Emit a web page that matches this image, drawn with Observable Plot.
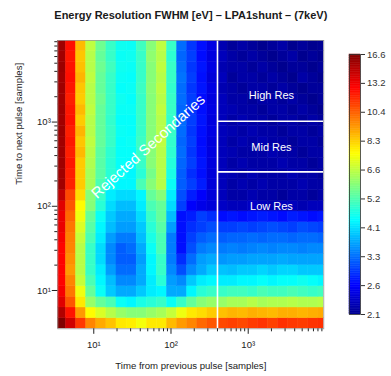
<!DOCTYPE html>
<html>
<head>
<meta charset="utf-8">
<script src="https://cdn.jsdelivr.net/npm/d3@7"></script>
<script src="https://cdn.jsdelivr.net/npm/@observablehq/plot@0.6"></script>
<style>
  html, body { margin: 0; padding: 0; background: #fff; }
  #wrap { position: relative; width: 391px; height: 376px; overflow: hidden; }
  #cbar { position: absolute; left: 330px; top: 0; }
  #main { position: absolute; left: 0; top: 0; }
</style>
</head>
<body>
<div id="wrap"><div id="main"></div><div id="cbar"></div></div>
<script>
// ---- texts ----
const title = "Energy Resolution FWHM [eV] \u2013 LPA1shunt \u2013 (7keV)";
const xTitle = "Time from previous pulse [samples]";
const yTitle = "Time to next pulse [samples]";
const regionLabels = [
  {label: "High Res", x: 2000, y: 2050},
  {label: "Mid Res", x: 2000, y: 505},
  {label: "Low Res", x: 2000, y: 99}
];
const rejectedLabel = {label: "Rejected Secondaries", x: 51, y: 511};
const cutX = [400];
const cutY = [1024, 256];

// ---- bin edges (log spaced) ----
const xEdges = [3.236, 4.373, 5.909, 7.985, 10.79, 14.58, 19.70, 26.62, 35.97, 48.61, 65.69, 88.77, 120.0, 162.1, 219.0, 296.0, 400.0, 540.5, 730.3, 986.8, 1333, 1802, 2435, 3290, 4446, 6008, 8118, 10970];
const yEdges = [3.508, 4.697, 6.289, 8.422, 11.28, 15.10, 20.22, 27.08, 36.26, 48.55, 65.01, 87.05, 116.6, 156.1, 209.0, 279.9, 374.8, 501.9, 672.1, 900.0, 1205, 1614, 2161, 2894, 3875, 5188, 6947, 9303];

// ---- FWHM [eV] per cell: one row per y bin (bottom to top), one value per x bin ----
const fwhm = [
  [17.5, 14.1, 11.4, 9.7, 9.0, 8.55, 7.9, 7.8, 7.4, 7.9, 7.9, 8.7, 9.3, 9.7, 10.3, 10.7, 11.0, 11.2, 11.0, 11.3, 11.5, 11.2, 11.6, 11.4, 11.3, 11.5, 11.6],
  [15.0, 12.3, 9.3, 7.6, 7.0, 6.5, 6.1, 5.9, 5.9, 6.1, 6.3, 6.7, 7.3, 7.9, 8.1, 8.4, 8.6, 8.8, 8.7, 8.9, 8.8, 8.7, 8.9, 8.9, 8.8, 8.9, 9.0],
  [13.6, 10.7, 7.9, 6.1, 5.5, 5.2, 4.55, 4.4, 4.7, 4.85, 5.0, 4.55, 5.0, 5.5, 5.9, 6.1, 6.1, 6.3, 6.3, 6.5, 6.3, 6.4, 6.4, 6.5, 6.4, 6.4, 6.5],
  [13.0, 10.0, 7.3, 5.5, 4.55, 4.0, 3.75, 3.75, 4.0, 4.3, 4.4, 3.75, 3.75, 4.4, 4.85, 5.0, 5.0, 5.1, 5.1, 5.0, 5.2, 5.1, 5.1, 5.2, 5.1, 5.0, 5.1],
  [12.7, 9.7, 6.7, 5.2, 4.4, 3.9, 3.5, 3.5, 3.75, 4.3, 4.85, 3.65, 3.5, 4.0, 4.3, 4.4, 4.3, 4.3, 4.4, 4.4, 4.5, 4.4, 4.5, 4.5, 4.6, 4.5, 4.4],
  [12.7, 9.3, 6.5, 5.0, 4.3, 3.65, 3.3, 3.3, 3.75, 4.4, 5.0, 3.5, 3.1, 3.5, 3.75, 4.0, 3.95, 3.9, 4.0, 4.0, 4.1, 4.0, 4.1, 4.1, 4.0, 4.0, 4.0],
  [12.7, 9.5, 6.5, 5.0, 4.15, 3.5, 3.2, 3.2, 3.65, 4.4, 5.0, 3.4, 2.9, 3.3, 3.65, 3.75, 3.6, 3.65, 3.65, 3.7, 3.7, 3.7, 3.75, 3.7, 3.7, 3.7, 3.7],
  [12.7, 9.7, 6.5, 5.0, 4.15, 3.5, 3.2, 3.3, 3.75, 4.55, 5.2, 3.4, 2.72, 3.1, 3.4, 3.5, 3.4, 3.45, 3.4, 3.45, 3.5, 3.45, 3.5, 3.5, 3.45, 3.5, 3.5],
  [13.0, 9.8, 6.7, 5.2, 4.3, 3.65, 3.4, 3.4, 3.9, 4.7, 5.2, 3.4, 2.72, 3.0, 3.2, 3.3, 3.2, 3.25, 3.25, 3.3, 3.25, 3.3, 3.3, 3.25, 3.3, 3.3, 3.25],
  [13.3, 10.0, 7.0, 5.35, 4.4, 3.9, 3.65, 3.65, 4.0, 4.85, 5.35, 3.65, 2.72, 2.9, 3.0, 3.1, 3.0, 3.0, 3.05, 3.0, 3.05, 3.1, 3.05, 3.0, 3.1, 3.05, 3.0],
  [13.3, 10.3, 7.3, 5.5, 4.55, 4.0, 3.75, 3.75, 4.15, 5.0, 5.5, 3.9, 2.72, 2.8, 3.0, 2.9, 2.7, 2.75, 2.7, 2.75, 2.8, 2.75, 2.7, 2.8, 2.75, 2.7, 2.75],
  [13.6, 10.7, 7.6, 5.9, 4.85, 4.15, 3.9, 3.9, 4.3, 5.2, 5.5, 4.15, 3.0, 2.62, 2.52, 2.45, 2.35, 2.3, 2.3, 2.35, 2.3, 2.25, 2.3, 2.3, 2.25, 2.3, 2.3],
  [14.5, 11.0, 8.1, 5.9, 5.0, 4.3, 4.15, 4.15, 4.4, 5.5, 5.9, 4.3, 3.1, 2.8, 2.62, 2.45, 2.3, 2.2, 2.2, 2.25, 2.2, 2.2, 2.15, 2.2, 2.2, 2.15, 2.2],
  [15.5, 11.9, 8.4, 6.3, 5.2, 4.55, 4.4, 4.4, 5.2, 5.9, 6.5, 4.55, 3.2, 3.0, 2.8, 2.45, 2.3, 2.2, 2.25, 2.2, 2.25, 2.2, 2.2, 2.2, 2.25, 2.2, 2.2],
  [15.5, 12.0, 8.4, 6.3, 5.35, 4.85, 4.55, 4.4, 4.85, 5.7, 6.5, 4.7, 3.2, 2.9, 2.72, 2.45, 2.3, 2.25, 2.2, 2.25, 2.2, 2.2, 2.2, 2.25, 2.2, 2.2, 2.15],
  [15.6, 12.2, 8.4, 6.4, 5.35, 4.85, 4.5, 4.45, 5.0, 5.9, 6.5, 4.8, 3.25, 3.0, 2.75, 2.47, 2.3, 2.2, 2.25, 2.2, 2.2, 2.2, 2.25, 2.2, 2.2, 2.15, 2.2],
  [15.5, 12.0, 8.7, 6.5, 5.4, 4.9, 4.5, 4.5, 5.0, 5.9, 6.5, 4.9, 3.3, 2.95, 2.72, 2.48, 2.3, 2.25, 2.2, 2.2, 2.2, 2.25, 2.2, 2.2, 2.15, 2.2, 2.2],
  [15.5, 12.2, 8.5, 6.6, 5.5, 5.0, 4.5, 4.55, 5.05, 5.9, 6.6, 4.95, 3.25, 3.0, 2.7, 2.47, 2.3, 2.2, 2.25, 2.2, 2.25, 2.2, 2.2, 2.15, 2.2, 2.2, 2.15],
  [15.6, 12.0, 8.8, 6.5, 5.5, 5.0, 4.55, 4.5, 5.0, 5.9, 6.5, 5.0, 3.3, 2.95, 2.72, 2.5, 2.3, 2.25, 2.2, 2.25, 2.2, 2.2, 2.15, 2.2, 2.2, 2.15, 2.2],
  [15.5, 12.3, 8.4, 6.5, 5.5, 4.95, 4.5, 4.5, 5.0, 5.9, 6.5, 4.95, 3.3, 3.0, 2.75, 2.48, 2.3, 2.2, 2.25, 2.2, 2.2, 2.15, 2.2, 2.2, 2.15, 2.2, 2.15],
  [15.6, 12.2, 8.7, 6.6, 5.5, 5.0, 4.55, 4.55, 5.0, 5.9, 6.6, 5.0, 3.25, 2.95, 2.72, 2.5, 2.3, 2.25, 2.2, 2.2, 2.15, 2.2, 2.2, 2.15, 2.2, 2.15, 2.1],
  [15.5, 12.0, 8.4, 6.5, 5.6, 5.0, 4.6, 4.5, 5.0, 5.9, 6.5, 5.0, 3.3, 3.0, 2.7, 2.48, 2.3, 2.2, 2.2, 2.15, 2.2, 2.2, 2.15, 2.2, 2.15, 2.1, 2.15],
  [15.6, 12.2, 8.5, 6.5, 5.5, 5.0, 4.5, 4.55, 5.05, 5.95, 6.6, 4.95, 3.3, 2.95, 2.75, 2.5, 2.25, 2.2, 2.15, 2.2, 2.2, 2.15, 2.2, 2.15, 2.1, 2.15, 2.15],
  [15.5, 12.4, 8.8, 6.6, 5.5, 5.0, 4.55, 4.5, 5.0, 5.9, 6.5, 5.0, 3.35, 3.0, 2.72, 2.45, 2.3, 2.15, 2.2, 2.2, 2.15, 2.2, 2.15, 2.1, 2.2, 2.15, 2.1],
  [15.7, 12.3, 8.6, 6.5, 5.6, 5.1, 4.6, 4.55, 5.0, 5.9, 6.6, 5.0, 3.3, 2.95, 2.75, 2.5, 2.25, 2.2, 2.2, 2.15, 2.2, 2.15, 2.1, 2.15, 2.15, 2.1, 2.15],
  [15.5, 12.2, 8.5, 6.5, 5.5, 5.0, 4.55, 4.6, 5.0, 6.0, 6.5, 4.9, 3.25, 3.0, 2.7, 2.48, 2.3, 2.2, 2.15, 2.2, 2.15, 2.1, 2.15, 2.2, 2.1, 2.15, 2.1],
  [15.6, 12.4, 8.7, 6.6, 5.6, 5.0, 4.6, 4.55, 5.1, 5.9, 6.6, 5.0, 3.3, 2.95, 2.72, 2.5, 2.25, 2.15, 2.2, 2.15, 2.1, 2.15, 2.2, 2.1, 2.15, 2.1, 2.12]
];

// ---- colour bar ----
const cbMin = 2.1, cbMax = 16.6;
const cbLabels = ["2.1", "2.6", "3.3", "4.1", "5.2", "6.6", "8.3", "10.4", "13.2", "16.6"];

// ---- axis ticks ----
const majorTicks = [10, 100, 1000];
const minorTicks = [20, 30, 40, 50, 60, 70, 80, 90, 200, 300, 400, 500, 600, 700, 800, 900, 2000, 3000, 4000, 5000, 6000, 7000, 8000, 9000];

// jet-like palette (tim.colors)
const jetScale = d3.scaleLinear()
  .domain([0, 0.111, 0.365, 0.619, 0.873, 1])
  .range(["#00008F", "#0000FF", "#00FFFF", "#FFFF00", "#FF0000", "#800000"])
  .interpolate(d3.interpolateRgb).clamp(true);
const jet = (t) => jetScale(t);

const colorOpts = {type: "log", domain: [cbMin, cbMax], interpolate: jet, clamp: true};

const cells = fwhm.flatMap((row, r) => row.map((v, c) => ({
  x1: xEdges[c], x2: xEdges[c + 1], y1: yEdges[r], y2: yEdges[r + 1], v
})));

const sup = {1: "\u00b9", 2: "\u00b2", 3: "\u00b3"};
const fmtPow = (d) => "10" + sup[Math.round(Math.log10(d))];
const font = "'Liberation Sans', Arial, Helvetica, sans-serif";
const xDomain = [3.42, 9528];
const yDomain = [3.508, 9303];

const main = Plot.plot({
  width: 391, height: 376,
  marginLeft: 57.3, marginRight: 67.7, marginTop: 40, marginBottom: 47.7,
  style: {fontFamily: font, fontSize: "9.5px", color: "#222", background: "transparent", overflow: "visible"},
  x: {type: "log", domain: xDomain, axis: null},
  y: {type: "log", domain: yDomain, axis: null},
  color: colorOpts,
  marks: [
    Plot.rect(cells, {x1: "x1", x2: "x2", y1: "y1", y2: "y2", fill: "v", stroke: "v", strokeWidth: 0.5, clip: true}),
    Plot.ruleX(cutX, {stroke: "white", strokeWidth: 1.6}),
    Plot.ruleY(cutY, {x1: cutX[0], x2: xDomain[1], stroke: "white", strokeWidth: 1.6}),
    Plot.text(regionLabels, {x: "x", y: "y", text: "label", fill: "white", fontSize: 11}),
    Plot.text([rejectedLabel], {x: "x", y: "y", text: "label", fill: "white", fontSize: 15, rotate: -42}),
    Plot.frame({stroke: "#999", strokeWidth: 0.8}),
    Plot.axisX(majorTicks, {anchor: "bottom", tickSize: 5.5, tickPadding: 7, tickFormat: fmtPow, label: null, fontSize: 9.5}),
    Plot.axisX(minorTicks, {anchor: "bottom", tickSize: 3, tickFormat: () => "", label: null}),
    Plot.axisY(majorTicks, {anchor: "left", tickSize: 5.5, tickPadding: 1.5, tickFormat: fmtPow, label: null, fontSize: 9.5}),
    Plot.axisY(minorTicks, {anchor: "left", tickSize: 3, tickFormat: () => "", label: null}),
    Plot.text([xTitle], {frameAnchor: "bottom", dy: 40.3, fontSize: 9.6, fill: "#222"}),
    Plot.text([yTitle], {frameAnchor: "left", dx: -39, rotate: -90, fontSize: 9.6, fill: "#222"}),
    Plot.text([title], {frameAnchor: "top", dy: -29, fontSize: 11, fontWeight: "bold", fill: "#1a1a1a"})
  ]
});
document.getElementById("main").appendChild(main);

// colour bar
const nSteps = 150;
const ramp = d3.range(nSteps).map(i => ({
  lo: cbMin * Math.pow(cbMax / cbMin, i / nSteps),
  hi: cbMin * Math.pow(cbMax / cbMin, (i + 1) / nSteps),
  mid: cbMin * Math.pow(cbMax / cbMin, (i + 0.5) / nSteps)
}));
const cbTicks = cbLabels.map((_, i) => cbMin * Math.pow(cbMax / cbMin, i / (cbLabels.length - 1)));
const cbMap = new Map(cbTicks.map((t, i) => [t, cbLabels[i]]));

const cbar = Plot.plot({
  width: 61, height: 376,
  marginLeft: 19, marginRight: 31, marginTop: 54, marginBottom: 62,
  style: {fontFamily: font, fontSize: "9.5px", color: "#333", background: "transparent", overflow: "visible"},
  x: {domain: [0, 1], axis: null},
  y: {type: "log", domain: [cbMin, cbMax], axis: null},
  color: colorOpts,
  marks: [
    Plot.rect(ramp, {x1: 0, x2: 1, y1: "lo", y2: "hi", fill: "mid", stroke: "mid", strokeWidth: 0.5}),
    Plot.frame({stroke: "#333", strokeWidth: 0.8}),
    Plot.axisY(cbTicks, {anchor: "right", tickSize: 4, tickPadding: 2.5, tickFormat: d => cbMap.get(d), label: null, fontSize: 9.5})
  ]
});
document.getElementById("cbar").appendChild(cbar);
</script>
</body>
</html>
